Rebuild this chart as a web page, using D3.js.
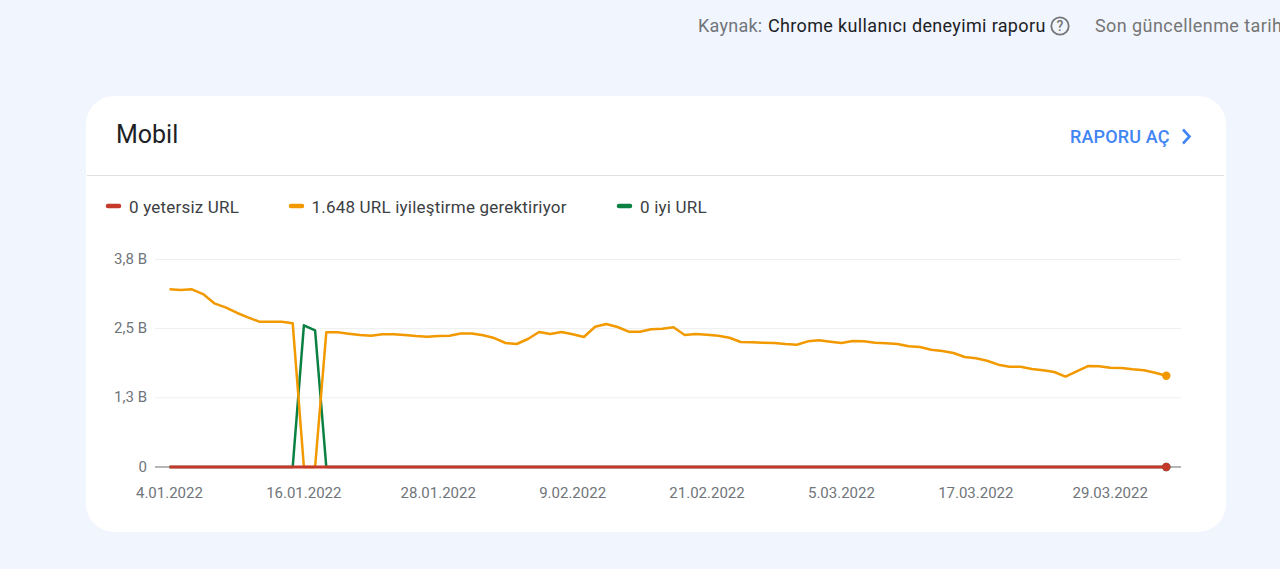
<!DOCTYPE html>
<html lang="tr">
<head>
<meta charset="utf-8">
<script src="https://cdn.jsdelivr.net/npm/d3@7"></script>
<style>
html,body{margin:0;padding:0;background:#f1f5fe;overflow:hidden}
svg{display:block}
text{font-family:Roboto,sans-serif}
</style>
</head>
<body>
<svg id="c" width="1280" height="569"></svg>
<script>
const startDate = "2022-01-04";
const needsImprovement = [3211,3199,3211,3126,2958,2886,2788,2705,2626,2624,2626,2597,0,0,2434,2434,2409,2385,2373,2398,2398,2385,2367,2355,2367,2373,2411,2414,2380,2331,2241,2223,2313,2439,2403,2439,2398,2349,2535,2584,2530,2445,2443,2488,2497,2524,2385,2403,2391,2373,2336,2259,2255,2246,2241,2223,2210,2271,2289,2264,2241,2277,2271,2246,2235,2223,2181,2168,2120,2096,2060,1988,1964,1921,1849,1812,1811,1771,1747,1717,1632,1729,1825,1820,1794,1789,1765,1747,1704,1648];
const goodSpikeDays = [12,13];
const goodSpikeValues = [2561,2470];
const poor = needsImprovement.map(() => 0);
const good = needsImprovement.map((_, i) => { const k = goodSpikeDays.indexOf(i); return k < 0 ? 0 : goodSpikeValues[k]; });
const yTicks = [0,1250,2500,3750];
const yLabels = ["0","1,3 B","2,5 B","3,8 B"];
const xTickDays = [0,12,24,36,48,60,72,84];
const legendNames = ["0 yetersiz URL","1.648 URL iyileştirme gerektiriyor","0 iyi URL"];
const colors = {poor:"#c5392b", need:"#f29900", good:"#0b8043"};

const svg = d3.select("#c");
const t0 = d3.utcParse("%Y-%m-%d")(startDate);
const date = i => d3.utcDay.offset(t0, i);
const x = d3.scaleUtc().domain([date(0), date(89)]).range([169.5, 1166.3]);
const y = d3.scaleLinear().domain([0,3750]).range([467,259.5]);

// top bar
svg.append("text").attr("x",698).attr("y",32).attr("font-size",18).attr("letter-spacing",0.25).attr("fill","#70757a").text("Kaynak:");
svg.append("text").attr("x",768).attr("y",32).attr("font-size",18).attr("letter-spacing",0.35).attr("fill","#202124").text("Chrome kullanıcı deneyimi raporu");
svg.append("circle").attr("cx",1060).attr("cy",26).attr("r",8.7).attr("fill","none").attr("stroke","#757575").attr("stroke-width",1.8);
svg.append("text").attr("x",1060).attr("y",31).attr("text-anchor","middle").attr("font-size",14).attr("font-weight",500).attr("fill","#757575").text("?");
svg.append("text").attr("x",1095).attr("y",32).attr("font-size",18).attr("letter-spacing",0.43).attr("fill","#757575").text("Son güncellenme tarihi");

// card
svg.append("rect").attr("x",86).attr("y",96).attr("width",1140).attr("height",436).attr("rx",28).attr("fill","#fff");
svg.append("line").attr("x1",87).attr("x2",1224).attr("y1",175.5).attr("y2",175.5).attr("stroke","#e0e0e0");
svg.append("text").attr("x",116).attr("y",143).attr("font-size",25).attr("fill","#202124").text("Mobil");
svg.append("text").attr("x",1070).attr("y",143).attr("font-size",18).attr("letter-spacing",0.15).attr("font-weight",500).attr("fill","#4285f4").text("RAPORU AÇ");
svg.append("path").attr("d","M1183 129.5l6.5 7l-6.5 7").attr("fill","none").attr("stroke","#4285f4").attr("stroke-width",2.6);

// legend
const legend = [[106,colors.poor,129],[289,colors.need,311.5],[617,colors.good,640]];
legend.forEach((l,i) => {
  svg.append("line").attr("x1",l[0]+2).attr("x2",l[0]+13).attr("y1",206).attr("y2",206)
    .attr("stroke",l[1]).attr("stroke-width",4.5).attr("stroke-linecap","round");
  svg.append("text").attr("x",l[2]).attr("y",212.5).attr("font-size",17).attr("letter-spacing",0.2).attr("fill","#3c4043").text(legendNames[i]);
});

// y axis
const yAxis = d3.axisLeft(y).tickValues(yTicks).tickFormat((d,i)=>yLabels[i]).tickSize(0).tickPadding(0);
const gy = svg.append("g").attr("transform","translate(147,-0.7)").call(yAxis);
gy.select(".domain").remove();
gy.selectAll("text").attr("font-size",15).attr("fill","#70757a").style("font-family","Roboto,sans-serif");
svg.selectAll(".grid").data(yTicks).join("line").attr("class","grid")
  .attr("x1",155).attr("x2",1181).attr("y1",d=>y(d)).attr("y2",d=>y(d))
  .attr("stroke",d=>d===0?"#9e9e9e":"#eeeeee").attr("stroke-width",d=>d===0?1.5:1);

// x axis
const xAxis = d3.axisBottom(x).tickValues(xTickDays.map(date)).tickFormat(d3.utcFormat("%-d.%m.%Y")).tickSize(0).tickPadding(0);
const gx = svg.append("g").attr("transform","translate(-0.6,487)").call(xAxis);
gx.select(".domain").remove();
gx.selectAll("text").attr("font-size",15).attr("fill","#70757a").attr("dy","0.71em").style("font-family","Roboto,sans-serif");

// series
const line = d3.line().x((d,i)=>x(date(i))).y(d=>y(d));
[[good,colors.good,2.5],[needsImprovement,colors.need,2.5],[poor,colors.poor,3]].forEach(([s,c,w]) => {
  svg.append("path").attr("d",line(s)).attr("fill","none").attr("stroke",c).attr("stroke-width",w).attr("stroke-linejoin","round");
  svg.append("circle").attr("cx",x(date(s.length-1))).attr("cy",y(s[s.length-1])).attr("r",4.2).attr("fill",c);
});
</script>
</body>
</html>
